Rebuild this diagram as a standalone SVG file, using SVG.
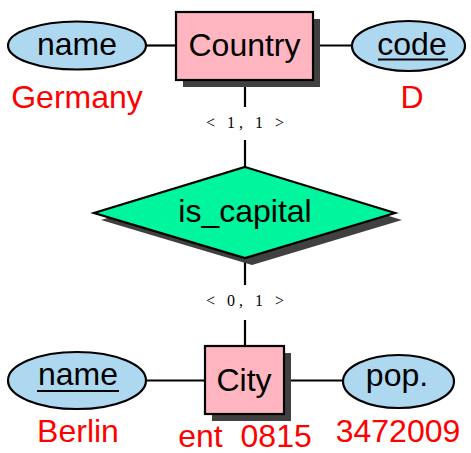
<svg xmlns="http://www.w3.org/2000/svg" width="471" height="453" viewBox="0 0 471 453">
<style>
.ent{fill:#FFB6C1;stroke:#000;stroke-width:2.2}
.att{fill:#ADD8F0;stroke:#000;stroke-width:2.2}
.rel{fill:#00F59C;stroke:#000;stroke-width:2.2}
.sh{fill:#404040}
.ln{stroke:#000;stroke-width:2.2;fill:none}
.t{font-family:"Liberation Sans",Arial,sans-serif;font-size:32px;fill:#000;text-anchor:middle}
.r{font-family:"Liberation Sans",Arial,sans-serif;font-size:32px;fill:#F00;text-anchor:middle}
.c{font-family:"Liberation Serif","DejaVu Serif",serif;font-size:16px;fill:#000;text-anchor:middle}
</style>
<rect width="471" height="453" fill="#fff"/>
<g id="connectors">
<line class="ln" x1="146" y1="45.5" x2="176" y2="45.5"/>
<line class="ln" x1="313" y1="45.5" x2="352" y2="45.5"/>
<line class="ln" x1="245" y1="80" x2="245" y2="107"/>
<line class="ln" x1="245" y1="140" x2="245" y2="167"/>
<line class="ln" x1="245" y1="258" x2="245" y2="285"/>
<line class="ln" x1="245" y1="320" x2="245" y2="346"/>
<line class="ln" x1="146" y1="380.5" x2="205" y2="380.5"/>
<line class="ln" x1="284" y1="380.5" x2="343" y2="380.5"/>
<text class="c" x="245" y="128" textLength="78" lengthAdjust="spacing">&lt; 1, 1 &gt;</text>
<text class="c" x="245" y="306" textLength="78" lengthAdjust="spacing">&lt; 0, 1 &gt;</text>
</g>
<g id="country">
<rect class="sh" x="183" y="19" width="137" height="68"/>
<rect class="ent" x="176" y="12" width="137" height="68"/>
<text class="t" x="244.5" y="56">Country</text>
</g>
<g id="country-name">
<ellipse class="att" cx="77" cy="45.5" rx="69" ry="24"/>
<text class="t" x="77" y="55">name</text>
<text class="r" x="77" y="108">Germany</text>
</g>
<g id="country-code">
<ellipse class="att" cx="408.5" cy="46" rx="56.5" ry="25"/>
<text class="t" x="412" y="55">code</text>
<line x1="378" y1="59.5" x2="448" y2="59.5" stroke="#000" stroke-width="2"/>
<text class="r" x="412" y="108">D</text>
</g>
<g id="is_capital">
<polygon class="sh" points="252,174 402,220 252,265 101,220"/>
<polygon class="rel" points="245,167 395,213 245,258 94,213"/>
<text class="t" x="245" y="222">is_capital</text>
</g>
<g id="city">
<rect class="sh" x="212" y="353" width="79" height="68"/>
<rect class="ent" x="205" y="346" width="79" height="68"/>
<text class="t" x="244" y="391">City</text>
<text class="r" x="245" y="447" xml:space="preserve">ent  0815</text>
</g>
<g id="city-name">
<ellipse class="att" cx="77" cy="380.5" rx="69" ry="28.5"/>
<text class="t" x="78" y="385">name</text>
<line x1="37" y1="391" x2="119" y2="391" stroke="#000" stroke-width="2"/>
<text class="r" x="78" y="442">Berlin</text>
</g>
<g id="city-pop">
<ellipse class="att" cx="398.5" cy="381.5" rx="55.5" ry="26.5"/>
<text class="t" x="397" y="386">pop.</text>
<text class="r" x="398" y="442">3472009</text>
</g>
</svg>
